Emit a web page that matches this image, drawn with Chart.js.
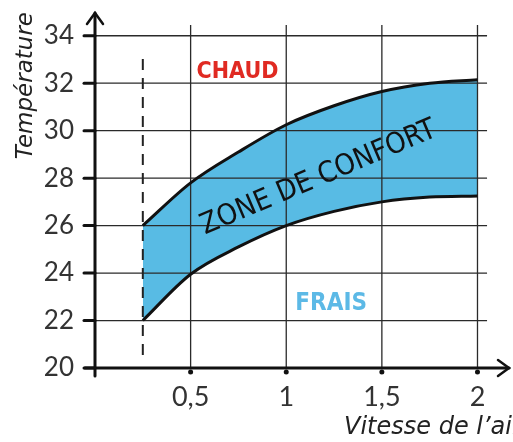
<!DOCTYPE html>
<html><head><meta charset="utf-8">
<script src="https://cdn.jsdelivr.net/npm/chart.js@4/dist/chart.umd.min.js"></script>
<style>html,body{margin:0;padding:0;background:#fff}#wrap{width:513px;height:442px}</style>
</head><body><div id="wrap"><canvas id="c"></canvas></div>
<script>
// Data
const speeds = [0.25, 0.5, 0.75, 1, 1.25, 1.5, 1.75, 2];
const upperTemp = [26, 27.8, 29.1, 30.25, 31.05, 31.65, 32.0, 32.15];
const lowerTemp = [22, 23.95, 25.1, 26.0, 26.6, 27.0, 27.2, 27.25];
const dashSpeed = [0.25, 0.25];
const dashTemp = [20.55, 33.2];
const yTicks = [20, 22, 24, 26, 28, 30, 32, 34];
const xTicks = [0.5, 1, 1.5, 2];
const xTickLabels = ['0,5', '1', '1,5', '2'];

const pts = (xs, ys) => xs.map((x, i) => ({x, y: ys[i]}));

const deco = {
  id: 'deco',
  beforeDatasetsDraw(chart) {
    const {ctx, scales: {x, y}} = chart;
    ctx.save();
    ctx.strokeStyle = '#2a2a2a';
    ctx.lineWidth = 1.3;
    yTicks.slice(1).forEach(v => {
      const py = y.getPixelForValue(v);
      ctx.beginPath(); ctx.moveTo(x.getPixelForValue(0), py); ctx.lineTo(x.getPixelForValue(2.05), py); ctx.stroke();
    });
    xTicks.forEach(v => {
      const px = x.getPixelForValue(v);
      ctx.beginPath(); ctx.moveTo(px, y.getPixelForValue(20)); ctx.lineTo(px, y.getPixelForValue(34.45)); ctx.stroke();
    });
    ctx.restore();
  },
  afterDatasetsDraw(chart) {
    const {ctx, scales: {x, y}} = chart;
    ctx.save();
    const x0 = x.getPixelForValue(0), y0 = y.getPixelForValue(20);
    const xEnd = x.getPixelForValue(x.max), yEnd = y.getPixelForValue(y.max);
    ctx.strokeStyle = '#111';
    ctx.lineWidth = 3;
    ctx.lineCap = 'round';
    ctx.beginPath(); ctx.moveTo(x0 - 10, y0); ctx.lineTo(xEnd - 1, y0); ctx.stroke();
    ctx.beginPath(); ctx.moveTo(x0, y0 + 8); ctx.lineTo(x0, yEnd + 1); ctx.stroke();
    ctx.lineWidth = 2.5;
    ctx.beginPath(); ctx.moveTo(xEnd - 12, y0 - 8); ctx.lineTo(xEnd - 1, y0); ctx.lineTo(xEnd - 12, y0 + 8); ctx.stroke();
    ctx.beginPath(); ctx.moveTo(x0 - 8, yEnd + 12); ctx.lineTo(x0, yEnd + 1); ctx.lineTo(x0 + 8, yEnd + 12); ctx.stroke();
    ctx.lineWidth = 3;
    yTicks.forEach(v => {
      const py = y.getPixelForValue(v);
      ctx.beginPath(); ctx.moveTo(x0 - 11, py); ctx.lineTo(x0, py); ctx.stroke();
    });
    ctx.fillStyle = '#111';
    xTicks.forEach(v => {
      const px = x.getPixelForValue(v);
      ctx.beginPath(); ctx.arc(px, y0 + 4, 2.5, 0, Math.PI * 2); ctx.fill();
    });
    ctx.textAlign = 'center'; ctx.textBaseline = 'middle';
    ctx.fillStyle = '#e02a22';
    ctx.font = 'bold 23px "DejaVu Sans Condensed", "DejaVu Sans"';
    ctx.fillText('CHAUD', x.getPixelForValue(0.745), y.getPixelForValue(32.45));
    ctx.fillStyle = '#5cb9e6';
    ctx.font = 'bold 24px "DejaVu Sans Condensed", "DejaVu Sans"';
    ctx.fillText('FRAIS', x.getPixelForValue(1.235), y.getPixelForValue(22.7));
    ctx.save();
    ctx.translate(x.getPixelForValue(1.17), y.getPixelForValue(28.0));
    ctx.rotate(-23 * Math.PI / 180);
    ctx.fillStyle = '#111';
    ctx.font = '29px "DejaVu Sans Condensed", "DejaVu Sans"';
    ctx.fillText('ZONE DE CONFORT', 0, 0);
    ctx.restore();
    ctx.fillStyle = '#222';
    ctx.textAlign = 'left';
    ctx.font = 'italic 24px "DejaVu Sans"';
    ctx.fillText('Vitesse de l\u2019air', 344, 428);
    ctx.restore();
  }
};

new Chart(document.getElementById('c'), {
  type: 'scatter',
  data: {
    datasets: [
      {data: pts(speeds, upperTemp), showLine: true, borderColor: '#111', borderWidth: 3,
       backgroundColor: '#58bbe4', fill: '+1', pointRadius: 0, cubicInterpolationMode: 'monotone'},
      {data: pts(speeds, lowerTemp), showLine: true, borderColor: '#111', borderWidth: 3,
       pointRadius: 0, fill: false, cubicInterpolationMode: 'monotone'},
      {data: pts(dashSpeed, dashTemp), showLine: true, borderColor: '#222', borderWidth: 2,
       borderDash: [11, 8], pointRadius: 0, fill: false}
    ]
  },
  options: {
    responsive: true, maintainAspectRatio: false, animation: false,
    layout: {padding: {left: 11, right: 3, top: 12, bottom: 0}},
    plugins: {legend: {display: false}, tooltip: {enabled: false},
      filler: {drawTime: 'beforeDatasetsDraw'}},
    scales: {
      x: {
        type: 'linear', min: 0, max: 2.17,
        grid: {display: false}, border: {display: false},
        afterBuildTicks: s => { s.ticks = xTicks.map(v => ({value: v})); },
        afterFit: s => { s.height = 74; s.paddingLeft = 0; s.paddingRight = 0; },
        ticks: {padding: 5, color: '#333', font: {family: 'Lato', size: 27},
          callback: (v) => xTickLabels[xTicks.indexOf(v)]}
      },
      y: {
        min: 20, max: 35,
        grid: {display: false}, border: {display: false},
        afterBuildTicks: s => { s.ticks = yTicks.map(v => ({value: v})); },
        afterFit: s => { s.width = 84; s.paddingTop = 0; s.paddingBottom = 0; },
        ticks: {padding: 13, color: '#333', font: {family: 'Lato', size: 26}},
        title: {display: true, text: 'Température', align: 'end', color: '#222',
          font: {family: 'DejaVu Sans', size: 23, style: 'italic'}, padding: {top: 1, bottom: 0}}
      }
    }
  },
  plugins: [deco]
});
</script></body></html>
